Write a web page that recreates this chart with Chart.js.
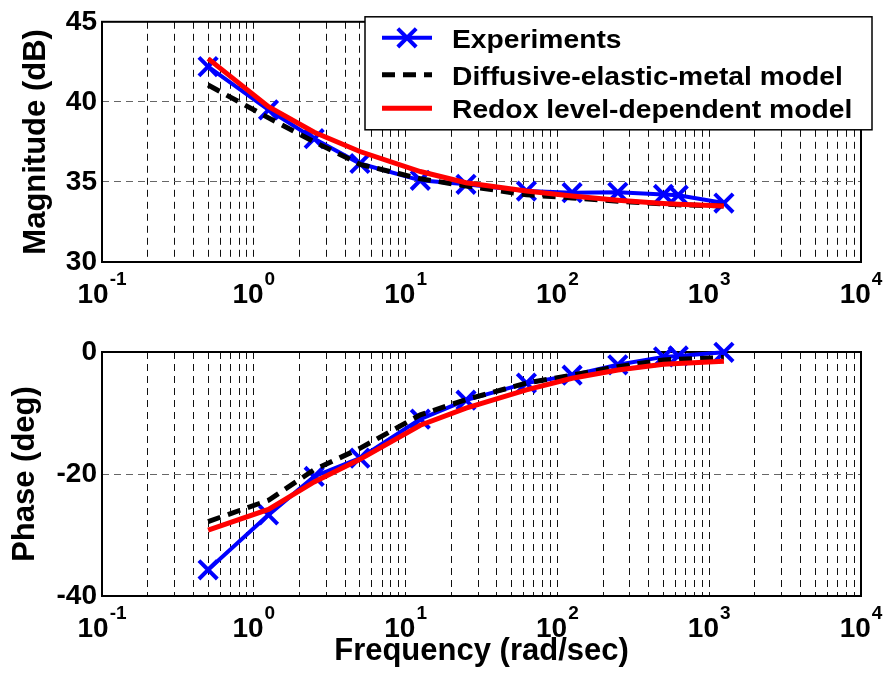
<!DOCTYPE html>
<html><head><meta charset="utf-8">
<script src="https://cdn.jsdelivr.net/npm/chart.js@4.4.1/dist/chart.umd.min.js"></script>
<style>
html,body{margin:0;padding:0;background:#fff;}
#wrap{position:relative;width:885px;height:675px;overflow:hidden;}
canvas{position:absolute;left:0;}
#c1{top:0;} #c2{top:330px;}
</style></head><body>
<div id="wrap"><canvas id="c1" width="885" height="330"></canvas><canvas id="c2" width="885" height="345"></canvas></div>
<script>
// ---- data ----
const frequency = [0.5, 1.25, 2.5, 5, 12.5, 25, 62.5, 125, 250, 500, 625, 1250];
const magExperiments = [42.2, 39.5, 37.7, 36.15, 35.1, 34.85, 34.43, 34.33, 34.35, 34.22, 34.17, 33.68];
const magDiffusive   = [41.05, 39.0, 37.5, 36.1, 35.2, 34.75, 34.2, 34.0, 33.8, 33.62, 33.57, 33.5];
const magRedox       = [42.7, 39.7, 38.1, 36.9, 35.65, 34.95, 34.43, 34.12, 33.86, 33.65, 33.6, 33.5];
const phaseExperiments = [-35.7, -26.7, -20.4, -17.4, -11.0, -7.9, -5.1, -3.8, -2.1, -0.8, -0.65, -0.05];
const phaseDiffusive   = [-27.8, -24.3, -19.3, -15.8, -10.3, -7.8, -5.1, -3.8, -2.4, -1.3, -1.2, -0.9];
const phaseRedox       = [-29.2, -25.8, -21.3, -17.6, -12.0, -9.2, -6.2, -4.3, -2.95, -2.0, -1.9, -1.5];
const seriesLabels = ['Experiments', 'Diffusive-elastic-metal model', 'Redox level-dependent model'];
const xTickExponents = [-1, 0, 1, 2, 3, 4];
const xMinorMultipliers = [1, 2, 3, 4, 5, 6, 7, 8, 9];
const magTicks = [30, 35, 40, 45];
const phaseTicks = [-40, -20, 0];

// ---- helpers ----
const FONT = '"Liberation Sans", Arial, Helvetica, sans-serif';
Chart.defaults.font.family = FONT;
Chart.defaults.color = '#000';

const xGridValues = [];
for (let e = xTickExponents[0]; e < xTickExponents[xTickExponents.length - 1]; e++) {
  xMinorMultipliers.forEach(m => xGridValues.push(m * Math.pow(10, e)));
}
xGridValues.push(Math.pow(10, xTickExponents[xTickExponents.length - 1]));
const X_MIN = Math.pow(10, xTickExponents[0]);
const X_MAX = Math.pow(10, xTickExponents[xTickExponents.length - 1]);

const pts = (xs, ys) => xs.map((x, i) => ({x: x, y: ys[i]}));

function datasets(exp, diff, redox) {
  return [
    {label: seriesLabels[0], data: pts(frequency, exp), borderColor: '#0000ff', backgroundColor: '#0000ff',
     borderWidth: 4, pointStyle: 'crossRot', pointRadius: 13, pointHoverRadius: 13, pointBorderWidth: 4,
     pointBorderColor: '#0000ff', tension: 0, fill: false, clip: false, order: 2},
    {label: seriesLabels[1], data: pts(frequency, diff), borderColor: '#000000', borderWidth: 5,
     borderDash: [13, 8], pointRadius: 0, tension: 0, fill: false, clip: false, order: 1},
    {label: seriesLabels[2], data: pts(frequency, redox), borderColor: '#ff0000', borderWidth: 5,
     pointRadius: 0, tension: 0, fill: false, clip: false, order: 0}
  ];
}

function xScale(height, title) {
  return {
    type: 'logarithmic', min: X_MIN, max: X_MAX,
    afterBuildTicks: s => { s.ticks = xGridValues.map(v => ({value: v})); },
    ticks: {display: false, autoSkip: false},
    grid: {drawTicks: false, lineWidth: 1,
      color: c => (c.tick && (Math.abs(c.tick.value - X_MIN) < 1e-9 || Math.abs(c.tick.value - X_MAX) < 1e-6)) ? 'rgba(0,0,0,0)' : '#111'},
    border: {display: false, dash: [7, 5]},
    title: title ? {display: true, text: title, font: {size: 31, weight: 'bold'}, color: '#000', padding: {top: 0, bottom: 4.5}} : {display: false},
    afterFit: s => { s.height = height; }
  };
}

function yScale(ticks, title, titlePad) {
  const lo = Math.min(...ticks), hi = Math.max(...ticks);
  return {
    type: 'linear', min: lo, max: hi,
    afterBuildTicks: s => { s.ticks = ticks.map(v => ({value: v})); },
    ticks: {font: {size: 28, weight: 'bold'}, color: '#000', padding: 5, autoSkip: false},
    grid: {drawTicks: false, lineWidth: 1,
      color: c => (c.tick && (c.tick.value === lo || c.tick.value === hi)) ? 'rgba(0,0,0,0)' : '#666'},
    border: {display: false, dash: [7, 5]},
    title: {display: true, text: title, font: {size: 31, weight: 'bold'}, color: '#000', padding: {top: titlePad, bottom: 0}},
    afterFit: s => { s.width = 102; }
  };
}

// box around plot area (drawn under the data)
const boxPlugin = {
  id: 'axesBox',
  beforeDatasetsDraw(chart) {
    const a = chart.chartArea, ctx = chart.ctx;
    ctx.save();
    ctx.strokeStyle = '#000'; ctx.lineWidth = 2;
    ctx.strokeRect(a.left, a.top, a.right - a.left, a.bottom - a.top);
    ctx.restore();
  }
};

// x tick labels of the form 10^n
const powerLabelPlugin = {
  id: 'powerLabels',
  afterDraw(chart) {
    const xs = chart.scales.x, ctx = chart.ctx, base = chart.chartArea.bottom;
    ctx.save();
    ctx.fillStyle = '#000';
    ctx.textBaseline = 'alphabetic';
    ctx.textAlign = 'left';
    xTickExponents.forEach(e => {
      const px = xs.getPixelForValue(Math.pow(10, e));
      ctx.font = 'bold 28px ' + FONT;
      const w1 = ctx.measureText('10').width;
      ctx.font = 'bold 19px ' + FONT;
      const sup = String(e);
      const w2 = ctx.measureText(sup).width;
      const start = px - (w1 + 1 + w2) / 2;
      ctx.font = 'bold 28px ' + FONT;
      ctx.fillText('10', start, base + 41);
      ctx.font = 'bold 19px ' + FONT;
      ctx.fillText(sup, start + w1 + 1, base + 23);
    });
    ctx.restore();
  }
};

// legend box inside the magnitude plot
const legendPlugin = {
  id: 'bodeLegend',
  afterDraw(chart, args, opts) {
    if (!opts || !opts.show) return;
    const ctx = chart.ctx, a = chart.chartArea;
    const L = a.left + 263, T = a.top - 5, R = a.right + 11, B = a.top + 108;
    ctx.save();
    ctx.fillStyle = '#fff';
    ctx.fillRect(L, T, R - L, B - T);
    ctx.strokeStyle = '#000'; ctx.lineWidth = 1.5;
    ctx.strokeRect(L, T, R - L, B - T);
    const rowsY = [T + 21, T + 58, T + 91.5];
    const x0 = L + 17, x1 = L + 67, tx = L + 87;
    chart.data.datasets.forEach((ds, i) => {
      const y = rowsY[i];
      ctx.save();
      ctx.strokeStyle = ds.borderColor; ctx.lineWidth = ds.borderWidth;
      ctx.setLineDash(ds.borderDash || []);
      ctx.beginPath(); ctx.moveTo(x0, y); ctx.lineTo(x1, y); ctx.stroke();
      ctx.setLineDash([]);
      if (ds.pointRadius > 0) {
        const r = ds.pointRadius * Math.SQRT1_2;
        ctx.lineWidth = ds.pointBorderWidth;
        ctx.beginPath();
        const cx = (x0 + x1) / 2;
        ctx.moveTo(cx - r, y - r); ctx.lineTo(cx + r, y + r);
        ctx.moveTo(cx - r, y + r); ctx.lineTo(cx + r, y - r);
        ctx.stroke();
      }
      ctx.restore();
      ctx.save();
      ctx.translate(tx, y + 10);
      ctx.scale(1.13, 1);
      ctx.font = 'bold 25px ' + FONT;
      ctx.fillStyle = '#000';
      ctx.textBaseline = 'alphabetic';
      ctx.fillText(ds.label, 0, 0);
      ctx.restore();
    });
    ctx.restore();
  }
};

const common = {
  responsive: false, animation: false, devicePixelRatio: 1,
  events: []
};

new Chart(document.getElementById('c1'), {
  type: 'line',
  data: {datasets: datasets(magExperiments, magDiffusive, magRedox)},
  options: Object.assign({}, common, {
    layout: {padding: {left: 0, right: 24, top: 18, bottom: 0}},
    scales: {x: xScale(68, null), y: yScale(magTicks, 'Magnitude (dB)', 17.4)},
    plugins: {legend: {display: false}, tooltip: {enabled: false}, bodeLegend: {show: true}}
  }),
  plugins: [boxPlugin, powerLabelPlugin, legendPlugin]
});

new Chart(document.getElementById('c2'), {
  type: 'line',
  data: {datasets: datasets(phaseExperiments, phaseDiffusive, phaseRedox)},
  options: Object.assign({}, common, {
    layout: {padding: {left: 0, right: 24, top: 22, bottom: 0}},
    scales: {x: xScale(79, 'Frequency (rad/sec)'), y: yScale(phaseTicks, 'Phase (deg)', 6.4)},
    plugins: {legend: {display: false}, tooltip: {enabled: false}, bodeLegend: {show: false}}
  }),
  plugins: [boxPlugin, powerLabelPlugin, legendPlugin]
});
</script>
</body></html>
